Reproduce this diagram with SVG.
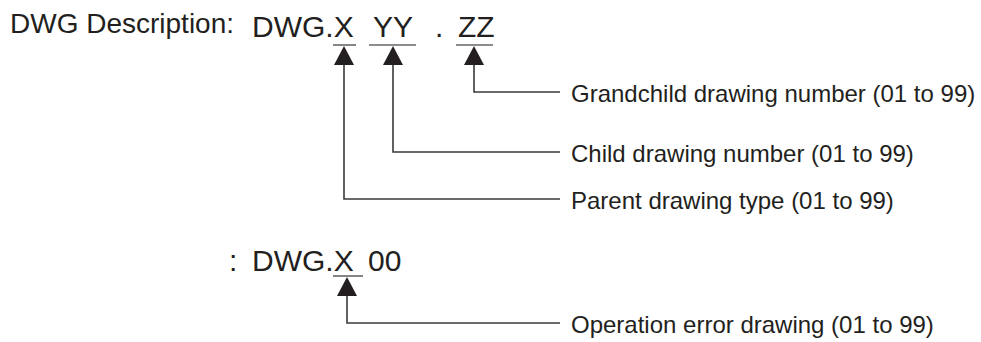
<svg xmlns="http://www.w3.org/2000/svg" width="981" height="342" viewBox="0 0 981 342">
<style>
.t{font-family:"Liberation Sans",Arial,sans-serif;fill:#231f20}
.big{font-size:30px}
.hd{font-size:28px}
.lb{font-size:24px}
.ul{stroke:#666;stroke-width:1.6;fill:none}
.ln{stroke:#3a3a3a;stroke-width:1.6;fill:none}
.ah{fill:#231f20}
</style>
<rect width="981" height="342" fill="#fff"/>
<g id="title">
<text class="t hd" x="10" y="33">DWG Description:</text>
</g>
<g id="code">
<text class="t big" y="37"><tspan x="252">DWG.X</tspan><tspan x="373">YY</tspan><tspan x="435">.</tspan><tspan x="458">ZZ</tspan></text>
<line class="ul" x1="333" y1="45" x2="356" y2="45"/>
<line class="ul" x1="369" y1="45" x2="416" y2="45"/>
<line class="ul" x1="456" y1="45" x2="493" y2="45"/>
</g>
<g id="code2">
<text class="t big" y="271"><tspan x="229">:</tspan><tspan x="252">DWG.X</tspan><tspan x="368">00</tspan></text>
<line class="ul" x1="333" y1="276" x2="363" y2="276"/>
</g>
<g id="label-grandchild"><text class="t lb" x="571" y="102">Grandchild drawing number (01 to 99)</text></g>
<g id="label-child"><text class="t lb" x="571" y="162">Child drawing number (01 to 99)</text></g>
<g id="label-parent"><text class="t lb" x="571" y="209">Parent drawing type (01 to 99)</text></g>
<g id="label-operror"><text class="t lb" x="571" y="333">Operation error drawing (01 to 99)</text></g>
<g id="connectors">
<polyline class="ln" points="344,64 344,199 560,199"/>
<polygon class="ah" points="344,46 334,65 354,65"/>
<polyline class="ln" points="393,64 393,152 560,152"/>
<polygon class="ah" points="393,46 383,65 403,65"/>
<polyline class="ln" points="474,64 474,92 560,92"/>
<polygon class="ah" points="474,46 464,65 484,65"/>
<polyline class="ln" points="347,295 347,323 560,323"/>
<polygon class="ah" points="347,277 337,296 357,296"/>
</g>
</svg>
